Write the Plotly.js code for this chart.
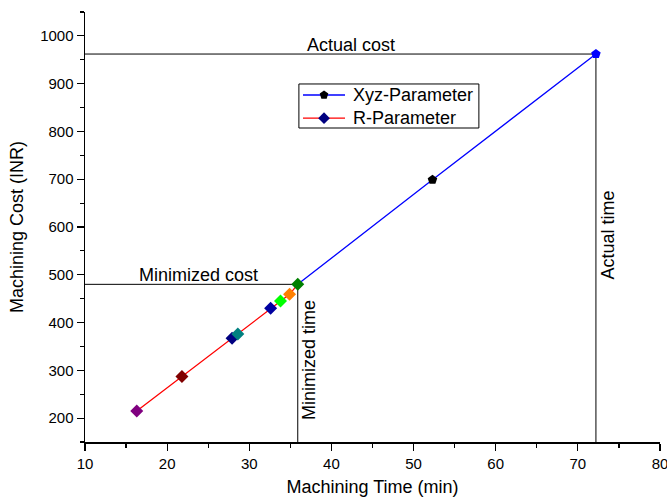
<!DOCTYPE html>
<html><head><meta charset="utf-8">
<script src="https://cdn.plot.ly/plotly-3.0.1.min.js"></script>
<style>html,body{margin:0;padding:0;background:#fff}</style>
</head><body><div id="chart" style="width:667px;height:502px"></div>
<script>
// R-Parameter points
const rTime = [16.3, 21.8, 27.9, 28.6, 32.6, 33.8, 34.9, 35.9];
const rCost = [215, 287, 367, 376, 430, 445, 459, 480];
const rColors = ['#800080', '#800000', '#000080', '#008080', '#0000A0', '#00FF00', '#FF8000', '#008000'];
// Xyz-Parameter points
const xyzTime = [35.9, 52.3, 72.2];
const xyzCost = [480, 699, 962];
const xyzColors = ['rgba(0,0,0,0)', '#000000', '#0000FF'];
// Reference values
const actualTime = 72.2, actualCost = 962;
const minTime = 35.9, minCost = 480;
const xMin = 10, yMin = 150;
// Legend entries
const legendNames = ['Xyz-Parameter', 'R-Parameter'];
const legendLineColors = ['#0000FF', '#FF0000'];
const legendMarkerColors = ['#000000', '#000080'];
const legendSymbols = ['pentagon', 'diamond'];

const F = 'Liberation Sans, Arial, sans-serif';
// legend geometry (paper fractions)
const LG = {x0:0.372, x1:0.685, y0:0.7302, y1:0.8326, lx0:0.3791, lx1:0.4522, mx:0.4157, tx:0.4626, rows:[0.807, 0.753]};

const traces = [
  {x:[xMin, actualTime, actualTime], y:[actualCost, actualCost, yMin], mode:'lines',
   line:{color:'#000', width:1}, showlegend:false, hoverinfo:'skip'},
  {x:[xMin, minTime, minTime], y:[minCost, minCost, yMin], mode:'lines',
   line:{color:'#000', width:1}, showlegend:false, hoverinfo:'skip'},
  {x:xyzTime, y:xyzCost, mode:'lines+markers', line:{color:'#0000FF', width:1.3},
   marker:{symbol:'pentagon', size:10, color:xyzColors}, showlegend:false},
  {x:rTime, y:rCost, mode:'lines+markers', line:{color:'#FF0000', width:1.3},
   marker:{symbol:'diamond', size:10, color:rColors}, showlegend:false},
  {x:LG.rows.map(()=>LG.mx), y:LG.rows, xaxis:'x2', yaxis:'y2', mode:'markers',
   marker:{symbol:legendSymbols, size:9, color:legendMarkerColors}, showlegend:false, hoverinfo:'skip'}
];

const shapes = [
  {type:'rect', xref:'paper', yref:'paper', x0:LG.x0, x1:LG.x1, y0:LG.y0, y1:LG.y1,
   line:{color:'#000', width:1}, fillcolor:'#fff', layer:'below'}
].concat(LG.rows.map((r,i)=>({type:'line', xref:'paper', yref:'paper', x0:LG.lx0, x1:LG.lx1, y0:r, y1:r,
   line:{color:legendLineColors[i], width:1.3}, layer:'below'})));

const annotations = [
  {x:42.4, y:actualCost, yanchor:'bottom', yshift:-3, text:'Actual cost', showarrow:false, font:{family:F, size:18}},
  {x:23.8, y:minCost, yanchor:'bottom', yshift:-3, text:'Minimized cost', showarrow:false, font:{family:F, size:18}},
  {x:minTime, y:321, xanchor:'left', text:'Minimized time', textangle:-90, showarrow:false, font:{family:F, size:18}},
  {x:actualTime, y:584, xanchor:'left', text:'Actual time', textangle:-90, showarrow:false, font:{family:F, size:18}}
].concat(LG.rows.map((r,i)=>({xref:'paper', yref:'paper', x:LG.tx, y:r, xanchor:'left', yanchor:'middle',
   text:legendNames[i], showarrow:false, font:{family:F, size:18}})));

const layout = {
  width:667, height:502,
  margin:{l:85, r:7, t:12, b:60},
  paper_bgcolor:'#fff', plot_bgcolor:'#fff',
  font:{family:F, color:'#000', size:15},
  showlegend:false,
  xaxis:{range:[10, 80], dtick:10, tick0:10, showgrid:false, zeroline:false,
         showline:true, linecolor:'#000', linewidth:1.5, ticks:'outside', ticklen:7, tickwidth:1.2,
         tickcolor:'#000', ticklabeloverflow:'allow',
         minor:{dtick:5, ticks:'outside', ticklen:4, tickcolor:'#000', showgrid:false},
         tickfont:{family:F, size:15},
         title:{text:'Machining Time (min)', font:{family:F, size:18}, standoff:10}},
  yaxis:{range:[150, 1050], dtick:100, tick0:0, showgrid:false, zeroline:false,
         showline:true, linecolor:'#000', linewidth:1.5, ticks:'outside', ticklen:7, tickwidth:1.2,
         tickcolor:'#000', minor:{dtick:50, ticks:'outside', ticklen:4, tickcolor:'#000', showgrid:false},
         tickfont:{family:F, size:15},
         title:{text:'Machining Cost (INR)', font:{family:F, size:18}, standoff:12}},
  xaxis2:{overlaying:'x', range:[0,1], visible:false, fixedrange:true},
  yaxis2:{overlaying:'y', range:[0,1], visible:false, fixedrange:true},
  shapes: shapes,
  annotations: annotations
};
Plotly.newPlot('chart', traces, layout, {displayModeBar:false, staticPlot:true});
</script></body></html>
